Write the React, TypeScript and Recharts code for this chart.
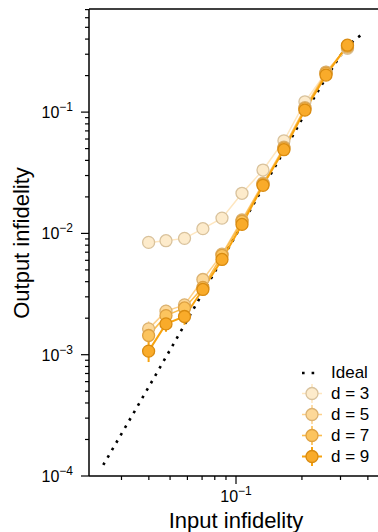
import { ErrorBar, Label, Legend, Line, LineChart, ReferenceLine, XAxis, YAxis } from 'recharts';

const fontFamily = '"Liberation Sans", Arial, Helvetica, sans-serif';

// input infidelity (shared by all distances)
const inputInfidelity = [0.0399, 0.0479, 0.0582, 0.0706, 0.0863, 0.1065, 0.1328, 0.1655, 0.2064, 0.2576, 0.3228];

const outputD3 = [0.00843, 0.00871, 0.0091, 0.01094, 0.01337, 0.0214, 0.0333, 0.058, 0.1216, 0.212, 0.335];
const outputD5 = [0.001633, 0.002286, 0.002576, 0.00417, 0.00675, 0.0129, 0.0259, 0.0515, 0.109, 0.214, 0.343];
const outputD7 = [0.00144, 0.0021, 0.00243, 0.00358, 0.0066, 0.0126, 0.0254, 0.0504, 0.107, 0.209, 0.35];
const outputD9 = [0.00107, 0.001795, 0.002065, 0.00345, 0.0061, 0.01186, 0.0249, 0.049, 0.1038, 0.2018, 0.356];

const errD3 = [0.0004, 0.0004, 0.0004, 0.0004, 0.0004, 0, 0, 0, 0, 0, 0];
const errD5 = [0.00025, 0.0003, 0.0003, 0.0003, 0.0003, 0, 0, 0, 0, 0, 0];
const errD7 = [0.0002, 0.00025, 0.00025, 0.0003, 0.0003, 0, 0, 0, 0, 0, 0];
const errD9 = [0.0002, 0.00025, 0.0003, 0.0003, 0.0003, 0, 0, 0, 0, 0, 0];

const idealInput = [0.02477, 0.0402, 0.0686, 0.1065, 0.1656, 0.2576, 0.3215, 0.3842];
const idealOutput = [0.0001233, 0.000553, 0.002965, 0.01186, 0.0477, 0.1905, 0.3435, 0.448];

const xTicks = [0.03, 0.04, 0.05, 0.06, 0.07, 0.08, 0.09, 0.1, 0.2, 0.3, 0.4, 0.5];
const yTicks = [
  0.0001, 0.0002, 0.0003, 0.0004, 0.0005, 0.0006, 0.0007, 0.0008, 0.0009,
  0.001, 0.002, 0.003, 0.004, 0.005, 0.006, 0.007, 0.008, 0.009,
  0.01, 0.02, 0.03, 0.04, 0.05, 0.06, 0.07, 0.08, 0.09,
  0.1, 0.2, 0.3, 0.4, 0.5, 0.6, 0.7,
];

const series = [
  { name: 'd = 3', values: outputD3, err: errD3, line: '#fee6bf', fill: '#fdebcb', edge: '#d9c29c', width: 1.5 },
  { name: 'd = 5', values: outputD5, err: errD5, line: '#fdd08a', fill: '#fdd898', edge: '#dbb272', width: 1.5 },
  { name: 'd = 7', values: outputD7, err: errD7, line: '#fbbc4c', fill: '#fcc45e', edge: '#dea142', width: 1.6 },
  { name: 'd = 9', values: outputD9, err: errD9, line: '#f7a30f', fill: '#f9ab2a', edge: '#d98b10', width: 2 },
];

const idealData = idealInput.map((x, i) => ({ x, y: idealOutput[i] }));

function isMajor(value: number) {
  const e = Math.log10(value);
  return Math.abs(e - Math.round(e)) < 1e-9;
}

function YTick({ x, y, payload }: any) {
  const major = isMajor(payload.value);
  const e = Math.round(Math.log10(payload.value));
  return (
    <g>
      <line x1={x} x2={x - (major ? 8 : 4)} y1={y} y2={y} stroke="#000" strokeWidth={1.2} />
      {major && (
        <text x={x - 16} y={y + 6} textAnchor="end" fontFamily={fontFamily} fontSize={16} fill="#000">
          10<tspan dy={-7} fontSize={12}>{`\u2212${Math.abs(e)}`}</tspan>
        </text>
      )}
    </g>
  );
}

function XTick({ x, y, payload }: any) {
  const major = isMajor(payload.value);
  const e = Math.round(Math.log10(payload.value));
  return (
    <g>
      <line x1={x} x2={x} y1={y} y2={y + (major ? 8 : 4)} stroke="#000" strokeWidth={1.2} />
      {major && (
        <text x={x} y={y + 26} textAnchor="middle" fontFamily={fontFamily} fontSize={16} fill="#000">
          10<tspan dy={-7} fontSize={12}>{`\u2212${Math.abs(e)}`}</tspan>
        </text>
      )}
    </g>
  );
}

function SeriesDot({ cx, cy, fill, stroke }: any) {
  if (cx == null || cy == null) return null;
  return <circle cx={cx} cy={cy} r={6} fill={fill} stroke={stroke} strokeWidth={1.3} />;
}

function LegendContent() {
  return (
    <div style={{ fontFamily, fontSize: 17, color: '#000' }}>
      <div style={{ display: 'flex', alignItems: 'center', height: 21 }}>
        <svg width={32} height={21}>
          <line x1={6} x2={20} y1={11} y2={11} stroke="#000" strokeWidth={2.6} strokeDasharray="2.6 7" />
        </svg>
        <span style={{ marginLeft: 3 }}>Ideal</span>
      </div>
      {series.map((s) => (
        <div key={s.name} style={{ display: 'flex', alignItems: 'center', height: 21 }}>
          <svg width={32} height={21}>
            <line x1={6} x2={26} y1={10.5} y2={10.5} stroke={s.line} strokeWidth={s.width} />
            <line x1={16} x2={16} y1={1} y2={20} stroke={s.line} strokeWidth={s.width} />
            <circle cx={16} cy={10.5} r={6} fill={s.fill} stroke={s.edge} strokeWidth={1.3} />
          </svg>
          <span style={{ marginLeft: 3 }}>{s.name}</span>
        </div>
      ))}
    </div>
  );
}

export default function App() {
  return (
    <div style={{ position: 'absolute', left: 0, top: 0, width: 378, height: 532, overflow: 'hidden', background: '#fff' }}>
      <LineChart width={420} height={532} margin={{ top: 9, right: 24, bottom: 0, left: 0 }}>
        <XAxis
          dataKey="x"
          type="number"
          scale="log"
          domain={[0.02132, 0.5377]}
          allowDataOverflow
          ticks={xTicks}
          interval={0}
          tick={<XTick />}
          tickSize={0}
          tickMargin={0}
          height={56}
          axisLine={{ stroke: '#000', strokeWidth: 1.5 }}
        >
          <Label
            content={() => (
              <text x={236} y={528} textAnchor="middle" fontFamily={fontFamily} fontSize={22} fill="#000">
                Input infidelity
              </text>
            )}
          />
        </XAxis>
        <YAxis
          dataKey="y"
          type="number"
          scale="log"
          domain={[0.0001, 0.708]}
          allowDataOverflow
          ticks={yTicks}
          interval={0}
          tick={<YTick />}
          tickSize={0}
          tickMargin={0}
          width={89}
          axisLine={{ stroke: '#000', strokeWidth: 1.5 }}
        >
          <Label
            content={() => (
              <text
                x={29}
                y={243}
                transform="rotate(-90 29 243)"
                textAnchor="middle"
                fontFamily={fontFamily}
                fontSize={22}
                fill="#000"
              >
                Output infidelity
              </text>
            )}
          />
        </YAxis>
        <ReferenceLine y={0.708} stroke="#000" strokeWidth={1.5} ifOverflow="extendDomain" />
        <Line
          data={idealData}
          dataKey="y"
          stroke="#000"
          strokeWidth={2.6}
          strokeDasharray="2.6 6"
          dot={false}
          type="monotone"
          isAnimationActive={false}
        />
        {series.map((s) => (
          <Line
            key={s.name}
            data={inputInfidelity.map((x, i) => ({ x, y: s.values[i], err: s.err[i] }))}
            dataKey="y"
            name={s.name}
            stroke={s.line}
            strokeWidth={s.width}
            dot={<SeriesDot fill={s.fill} stroke={s.edge} />}
            activeDot={false}
            isAnimationActive={false}
          >
            <ErrorBar dataKey="err" direction="y" width={0} stroke={s.line} strokeWidth={s.width} />
          </Line>
        ))}
        <Legend
          layout="vertical"
          align="center"
          verticalAlign="middle"
          content={<LegendContent />}
          wrapperStyle={{ position: 'absolute', left: 296, top: 362, width: 90 }}
        />
      </LineChart>
    </div>
  );
}
